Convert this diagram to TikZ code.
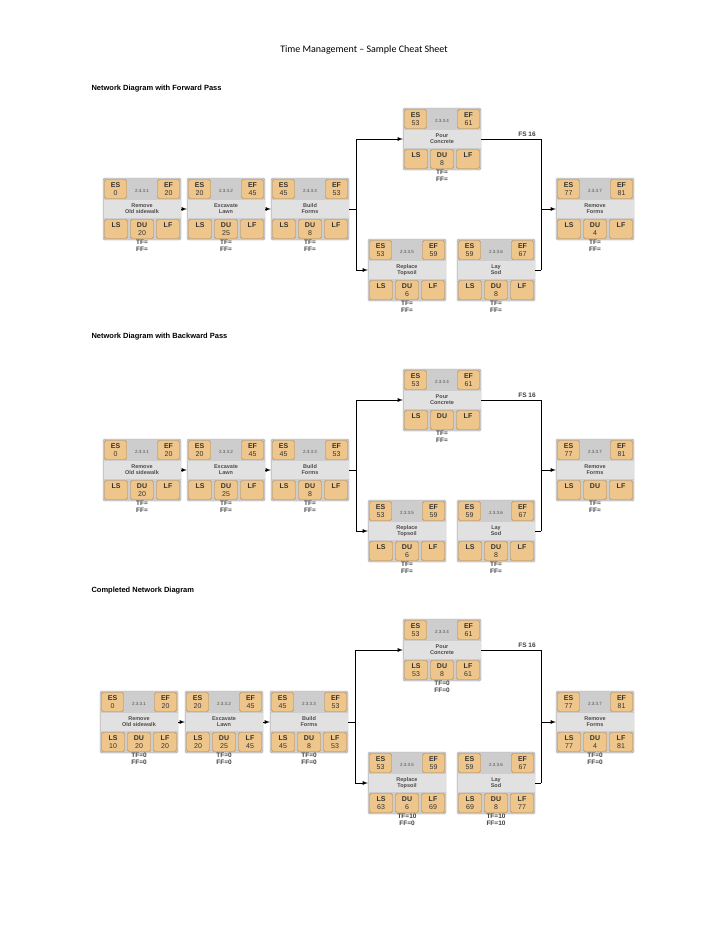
\documentclass[tikz,border=0pt]{standalone}
\usepackage{fontspec}
\setmainfont{Carlito}
\newfontfamily\lab{Liberation Sans}
\usetikzlibrary{positioning}

\definecolor{cellfill}{RGB}{238,198,140}
\definecolor{celldraw}{RGB}{180,130,70}
\definecolor{boxfill}{RGB}{205,205,205}
\definecolor{bandfill}{RGB}{225,225,225}

\tikzset{
  taskbox/.style={draw=gray!70, fill=boxfill, rounded corners=1.5pt, minimum width=78, minimum height=62, inner sep=0},
  band/.style={fill=bandfill, minimum width=77, minimum height=18, inner sep=0, align=center, font=\lab\fontsize{5.5}{6}\selectfont\bfseries, text=gray!60!black},
  cell/.style={draw=celldraw, fill=cellfill, rounded corners=1.5pt, minimum width=22, minimum height=19, inner sep=0, align=center, font=\lab\fontsize{7}{7.5}\selectfont, text=black!80},
  tid/.style={font=\lab\fontsize{4.5}{5}\selectfont, text=gray!60!black},
  float/.style={font=\lab\fontsize{6.5}{7.5}\selectfont\bfseries, align=center, text=black!75},
  heading/.style={font=\lab\fontsize{7.5}{8}\selectfont\bfseries, anchor=west},
  link/.style={-latex, line width=0.8pt}
}

% \task{name}{pos}{id}{title}{ES}{EF}{LS}{DU}{LF}
\newcommand\task[9]{%
  \node[taskbox] (#1) at (#2) {};
  \node[band] (#1t) at (#1.center) {#4};
  \node[cell, anchor=north west] (#1es) at ([shift={(1.5,1.5)}]#1.north west) {\textbf{ES}\\#5};
  \node[cell, anchor=north east] (#1ef) at ([shift={(-1.5,1.5)}]#1.north east) {\textbf{EF}\\#6};
  \node[tid] (#1id) at ([yshift=9]#1t.north) {#3};
  \node[cell, anchor=south west, minimum width=23] (#1ls) at ([shift={(1.5,-1.5)}]#1.south west) {\textbf{LS}\\#7};
  \node[cell, anchor=south, minimum width=23] (#1du) at ([yshift=1.5]#1.south) {\textbf{DU}\\#8};
  \node[cell, anchor=south east, minimum width=23] (#1lf) at ([shift={(-1.5,-1.5)}]#1.south east) {\textbf{LF}\\#9};
}
% \slack{name}{TF}{FF}
\newcommand\slack[3]{\node[float, below=4 of #1] (#1s) {TF=#2\\FF=#3};}

% connectors of one diagram
\newcommand\links[1]{%
  \draw[link] (#1a.east) -- (#1b.west);
  \draw[link] (#1b.east) -- (#1c.west);
  \coordinate (#1j) at ([xshift=7]#1c.east);
  \draw[line width=0.8pt] (#1c.east) -- (#1j);
  \draw[link] (#1d.west -| #1j) -- (#1d.west);
  \draw[link] (#1e.west -| #1j) -- (#1e.west);
  \draw[line width=0.8pt] (#1d.west -| #1j) -- (#1e.west -| #1j);
  \coordinate (#1k) at ([xshift=6]#1f.east);
  \draw[line width=0.8pt] (#1d.east) -- (#1d.east -| #1k) -- (#1f.east -| #1k);
  \draw[line width=0.8pt] (#1f.east) -- (#1f.east -| #1k);
  \draw[link] (#1g.west -| #1k) -- (#1g.west);
  \node[float, above left=1 and 2 of #1d.east -| #1k] {FS 16};
}

\begin{document}
\begin{tikzpicture}[x=1pt, y=-1pt]
\useasboundingbox[fill=white] (0,0) rectangle (728,943);

\node[font=\fontsize{10}{12}\selectfont] (title) at (364,50) {Time Management -- Sample Cheat Sheet};

% Forward pass
\node[heading] (h1) at (88,89) {Network Diagram with Forward Pass};
\task{Aa}{142,209}{2.3.3.1}{Remove\\Old sidewalk}{0}{20}{}{20}{}
\task{Ab}{226,209}{2.3.3.2}{Excavate\\Lawn}{20}{45}{}{25}{}
\task{Ac}{310,209}{2.3.3.3}{Build\\Forms}{45}{53}{}{8}{}
\task{Ad}{442,139}{2.3.3.4}{Pour\\Concrete}{53}{61}{}{8}{}
\task{Ae}{407,270}{2.3.3.5}{Replace\\Topsoil}{53}{59}{}{6}{}
\task{Af}{496,270}{2.3.3.6}{Lay\\Sod}{59}{67}{}{8}{}
\task{Ag}{595,209}{2.3.3.7}{Remove\\Forms}{77}{81}{}{4}{}
\foreach \n in {Aa,Ab,Ac,Ad,Ae,Af,Ag} {\slack{\n}{}{}}
\links{A}

% Backward pass
\node[heading] (h2) at (88,337) {Network Diagram with Backward Pass};
\task{Ba}{142,470}{2.3.3.1}{Remove\\Old sidewalk}{0}{20}{}{20}{}
\task{Bb}{226,470}{2.3.3.2}{Excavate\\Lawn}{20}{45}{}{25}{}
\task{Bc}{310,470}{2.3.3.3}{Build\\Forms}{45}{53}{}{8}{}
\task{Bd}{442,400}{2.3.3.4}{Pour\\Concrete}{53}{61}{}{}{}
\task{Be}{407,531}{2.3.3.5}{Replace\\Topsoil}{53}{59}{}{6}{}
\task{Bf}{496,531}{2.3.3.6}{Lay\\Sod}{59}{67}{}{8}{}
\task{Bg}{595,470}{2.3.3.7}{Remove\\Forms}{77}{81}{}{}{}
\foreach \n in {Ba,Bb,Bc,Bd,Be,Bf,Bg} {\slack{\n}{}{}}
\links{B}

% Completed
\node[heading] (h3) at (88,591) {Completed Network Diagram};
\task{Ca}{139,722}{2.3.3.1}{Remove\\Old sidewalk}{0}{20}{10}{20}{20}
\task{Cb}{224,722}{2.3.3.2}{Excavate\\Lawn}{20}{45}{20}{25}{45}
\task{Cc}{309,722}{2.3.3.3}{Build\\Forms}{45}{53}{45}{8}{53}
\task{Cd}{442,650}{2.3.3.4}{Pour\\Concrete}{53}{61}{53}{8}{61}
\task{Ce}{407,783}{2.3.3.5}{Replace\\Topsoil}{53}{59}{63}{6}{69}
\task{Cf}{496,783}{2.3.3.6}{Lay\\Sod}{59}{67}{69}{8}{77}
\task{Cg}{595,722}{2.3.3.7}{Remove\\Forms}{77}{81}{77}{4}{81}
\slack{Ca}{0}{0} \slack{Cb}{0}{0} \slack{Cc}{0}{0} \slack{Cd}{0}{0}
\slack{Ce}{10}{0} \slack{Cf}{10}{10} \slack{Cg}{0}{0}
\links{C}
\end{tikzpicture}
\end{document}
